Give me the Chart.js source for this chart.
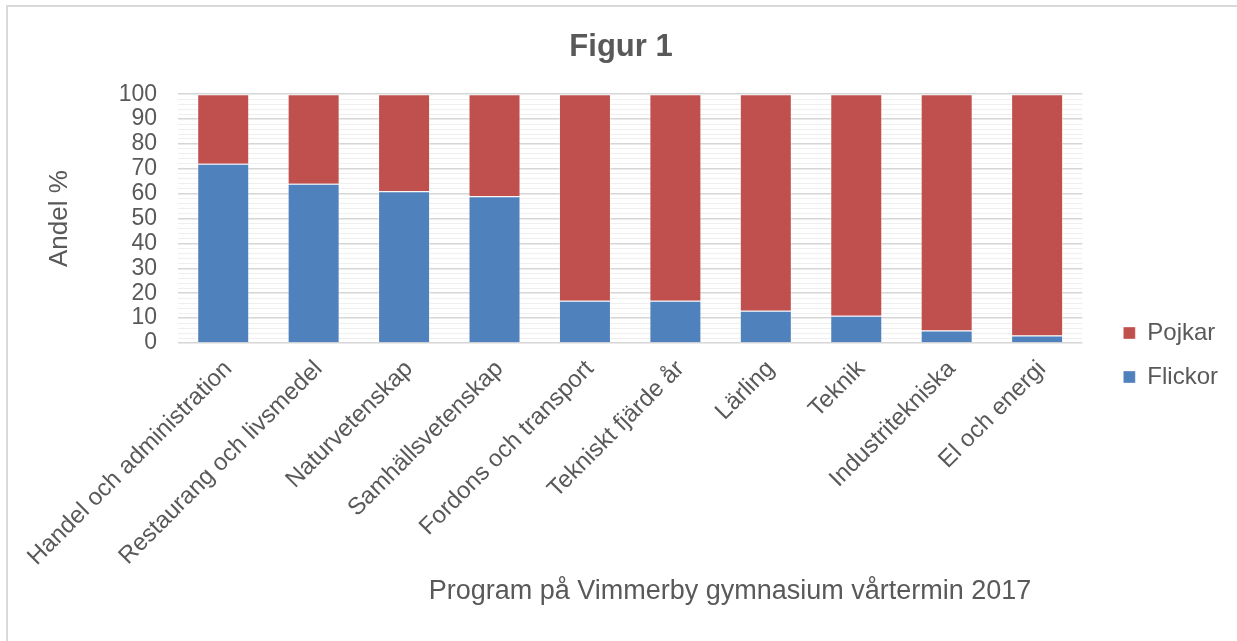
<!DOCTYPE html>
<html>
<head>
<meta charset="utf-8">
<script src="https://cdn.jsdelivr.net/npm/chart.js@4/dist/chart.umd.min.js"></script>
<style>
  html, body { margin: 0; padding: 0; background: #fff; }
  #wrap { position: relative; width: 1237px; height: 641px; }
  #frame { position: absolute; left: 6px; top: 5px; right: -10px; bottom: -10px;
           border-left: 2px solid #d9d9d9; border-top: 2px solid #d9d9d9; }
  canvas { position: absolute; left: 0; top: 0; }
</style>
</head>
<body>
<div id="wrap">
  <div id="frame"></div>
  <canvas id="chart" width="1237" height="641"></canvas>
</div>
<script>
const categories = [
  'Handel och administration',
  'Restaurang och livsmedel',
  'Naturvetenskap',
  'Samhällsvetenskap',
  'Fordons och transport',
  'Tekniskt fjärde år',
  'Lärling',
  'Teknik',
  'Industritekniska',
  'El och energi'
];
const flickor = [72, 64, 61, 59, 17, 17, 13, 11, 5, 3];
const pojkar = [28, 36, 39, 41, 83, 83, 87, 89, 95, 97];

const chartTitle = 'Figur 1';
const yTitle = 'Andel %';
const xTitle = 'Program på Vimmerby gymnasium vårtermin 2017';

const FONT = '"Liberation Sans", Arial, sans-serif';
const GREY = '#595959';

// x axis title sits off-centre in the original, so draw it by hand
const xTitlePlugin = {
  id: 'xTitle',
  afterDraw(chart) {
    const { ctx } = chart;
    ctx.save();
    ctx.font = '27px ' + FONT;
    ctx.fillStyle = GREY;
    ctx.textAlign = 'center';
    ctx.textBaseline = 'middle';
    ctx.fillText(xTitle, 730, 592);
    ctx.restore();
  }
};

new Chart(document.getElementById('chart'), {
  type: 'bar',
  data: {
    labels: categories,
    datasets: [
      {
        label: 'Flickor',
        data: flickor,
        backgroundColor: '#4f81bd',
        borderColor: 'rgba(255,255,255,0.35)',
        borderWidth: 1
      },
      {
        label: 'Pojkar',
        data: pojkar,
        backgroundColor: '#c0504d',
        borderColor: 'rgba(255,255,255,0.35)',
        borderWidth: 1
      }
    ]
  },
  options: {
    responsive: false,
    animation: false,
    barPercentage: 0.575,
    categoryPercentage: 1,
    layout: { padding: { left: 14, right: 9, top: 0, bottom: 26 } },
    font: { family: FONT },
    plugins: {
      title: {
        display: true,
        text: chartTitle,
        color: GREY,
        font: { family: FONT, size: 31, weight: 'bold' },
        padding: { top: 29, bottom: 28 }
      },
      legend: {
        position: 'right',
        reverse: true,
        // empty title just pushes the two items down
        title: { display: true, text: '', font: { size: 10 }, padding: { top: 83, bottom: 0 } },
        labels: {
          color: GREY,
          font: { family: FONT, size: 24 },
          boxWidth: 12,
          boxHeight: 12,
          padding: 20
        }
      },
      tooltip: { enabled: false }
    },
    scales: {
      x: {
        stacked: true,
        grid: { display: false },
        border: { display: false },
        ticks: {
          color: GREY,
          font: { family: FONT, size: 24 },
          autoSkip: false,
          minRotation: 45,
          maxRotation: 45,
          labelOffset: 5,
          padding: 4
        },
        afterFit(s) { s.height = 272; }
      },
      y: {
        stacked: true,
        min: 0,
        max: 100,
        border: { display: false },
        grid: {
          drawTicks: false,
          color: c => (c.tick && c.tick.value % 10 === 0) ? '#d6d6d6' : '#efefef',
          lineWidth: c => (c.tick && c.tick.value % 10 === 0) ? 1.5 : 1
        },
        ticks: {
          stepSize: 2,
          maxTicksLimit: 101,
          autoSkip: false,
          color: GREY,
          font: { family: FONT, size: 23 },
          padding: 21,
          callback: v => (v % 10 === 0 ? v : '')
        },
        title: {
          display: true,
          text: yTitle,
          color: GREY,
          font: { family: FONT, size: 26 },
          padding: { top: 30, bottom: 0 }
        },
        afterFit(s) { s.width = 164; }
      },
      gap: {
        position: 'right',
        display: true,
        grid: { display: false },
        border: { display: false },
        ticks: { display: false },
        afterFit(s) { s.width = 21; }
      }
    }
  },
  plugins: [xTitlePlugin]
});
</script>
</body>
</html>
